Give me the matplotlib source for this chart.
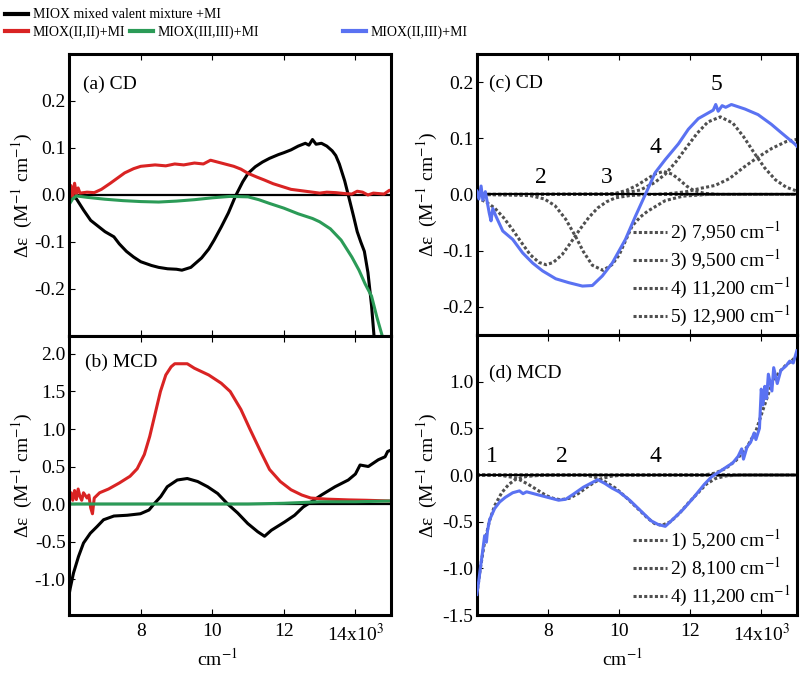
import matplotlib.pyplot as plt
from matplotlib.transforms import ScaledTranslation

plt.rcParams['font.family'] = ['Liberation Serif', 'DejaVu Serif']
plt.rcParams['mathtext.fontset'] = 'stix'
plt.rcParams['font.size'] = 14
plt.rcParams['axes.unicode_minus'] = False

# ---------- data (x in 10^3 cm^-1) ----------
# (a) CD
a_black_x = [6.0, 6.1, 6.2, 6.4, 6.6, 6.8, 7.0, 7.25, 7.4, 7.6,
             7.8, 8.0, 8.3, 8.5, 8.75, 9.0, 9.15, 9.4, 9.7, 9.9,
             10.05, 10.25, 10.45, 10.65, 10.85, 11.0, 11.2, 11.4, 11.6, 11.85,
             12.0, 12.2, 12.4, 12.6, 12.7, 12.8, 12.9, 13.05, 13.2, 13.35,
             13.45, 13.55, 13.7, 13.8, 13.95, 14.05, 14.15, 14.25, 14.35, 14.45,
             14.52, 14.6]
a_black_y = [-0.012, -0.004, -0.008, -0.032, -0.054, -0.066, -0.078, -0.089, -0.104, -0.12,
             -0.132, -0.142, -0.15, -0.154, -0.157, -0.158, -0.16, -0.154, -0.134, -0.115,
             -0.096, -0.068, -0.038, -0.002, 0.028, 0.046, 0.06, 0.07, 0.078, 0.086,
             0.09, 0.096, 0.104, 0.11, 0.106, 0.118, 0.108, 0.11, 0.104, 0.094,
             0.084, 0.066, 0.03, 0.0, -0.046, -0.078, -0.1, -0.12, -0.165, -0.235,
             -0.3, -0.36]
a_red_x = [6.0, 6.05, 6.1, 6.15, 6.2, 6.25, 6.3, 6.5, 6.7, 6.9,
           7.15, 7.35, 7.55, 7.8, 8.0, 8.4, 8.7, 8.95, 9.2, 9.5,
           9.75, 9.95, 10.25, 10.6, 10.8, 11.0, 11.25, 11.45, 11.7, 11.95,
           12.2, 12.5, 12.8, 13.0, 13.2, 13.45, 13.7, 13.9, 14.05, 14.2,
           14.35, 14.5, 14.65, 14.8, 14.95, 15.0]
a_red_y = [0.01, 0.02, -0.005, 0.025, 0.002, 0.015, 0.004, 0.006, 0.005, 0.012,
           0.025, 0.036, 0.047, 0.056, 0.061, 0.064, 0.062, 0.066, 0.064, 0.068,
           0.066, 0.074, 0.068, 0.061, 0.055, 0.046, 0.038, 0.032, 0.024, 0.018,
           0.012, 0.009, 0.006, 0.004, 0.006, 0.005, 0.003, 0.002, 0.008, 0.006,
           0.0, 0.004, 0.003, 0.002, 0.01, 0.008]
a_green_x = [6.0, 6.1, 6.2, 6.5, 7.0, 7.5, 8.0, 8.5, 9.0, 9.5,
             10.0, 10.5, 11.0, 11.3, 11.6, 12.0, 12.4, 12.8, 13.0, 13.3,
             13.6, 13.9, 14.1, 14.27, 14.45, 14.6, 14.75, 14.85]
a_green_y = [-0.02, -0.008, -0.002, -0.005, -0.009, -0.012, -0.014, -0.015, -0.013, -0.01,
             -0.006, -0.003, -0.004, -0.01, -0.018, -0.028, -0.04, -0.05, -0.057, -0.072,
             -0.096, -0.132, -0.16, -0.189, -0.215, -0.26, -0.30, -0.34]

# (b) MCD
b_red_x = [6.0, 6.05, 6.1, 6.15, 6.2, 6.25, 6.3, 6.35, 6.4, 6.5,
           6.55, 6.6, 6.65, 6.7, 6.85, 7.1, 7.4, 7.7, 7.9, 8.1,
           8.25, 8.4, 8.55, 8.7, 8.85, 8.95, 9.3, 9.5, 9.9, 10.25,
           10.5, 10.8, 11.05, 11.35, 11.6, 11.9, 12.2, 12.5, 12.75, 13.2,
           13.8, 14.3, 15.0]
b_red_y = [0.08, 0.15, 0.05, 0.18, 0.06, 0.2, 0.1, 0.05, 0.15, 0.08,
           0.12, -0.05, -0.13, 0.08, 0.15, 0.2, 0.28, 0.37, 0.47, 0.66,
           0.9, 1.2, 1.5, 1.72, 1.83, 1.87, 1.87, 1.81, 1.72, 1.61,
           1.5, 1.26, 1.0, 0.7, 0.46, 0.3, 0.19, 0.12, 0.08, 0.065,
           0.055, 0.05, 0.04]
b_black_x = [6.0, 6.03, 6.12, 6.26, 6.4, 6.59, 6.78, 6.96, 7.25, 7.62,
             7.99, 8.23, 8.37, 8.56, 8.74, 9.02, 9.3, 9.59, 9.87, 10.15,
             10.43, 10.71, 10.99, 11.27, 11.46, 11.65, 12.02, 12.3, 12.54, 12.77,
             13.05, 13.43, 13.8, 14.0, 14.13, 14.36, 14.64, 14.83, 14.9, 15.0]
b_black_y = [-1.2, -1.12, -0.92, -0.7, -0.52, -0.39, -0.3, -0.21, -0.16, -0.15,
             -0.13, -0.08, 0.0, 0.1, 0.23, 0.32, 0.34, 0.3, 0.23, 0.14,
             0.0, -0.12, -0.26, -0.37, -0.43, -0.35, -0.24, -0.15, -0.04, 0.03,
             0.12, 0.23, 0.32, 0.4, 0.52, 0.5, 0.59, 0.63, 0.7, 0.72]
b_green_x = [6.0, 7.0, 8.0, 9.0, 10.0, 11.0, 12.0, 12.5, 13.0, 14.0, 15.0]
b_green_y = [0.0, 0.0, 0.0, 0.0, 0.0, 0.0, 0.01, 0.02, 0.03, 0.03, 0.04]

# (c) CD of MIOX(II,III)+MI with Gaussian components
c_blue_x = [6.0, 6.06, 6.12, 6.17, 6.24, 6.35, 6.4, 6.45, 6.54, 6.73,
            7.01, 7.29, 7.57, 7.85, 8.22, 8.59, 8.97, 9.25, 9.53, 9.81,
            10.18, 10.46, 10.74, 11.02, 11.3, 11.67, 11.95, 12.23, 12.51, 12.65,
            12.72, 12.79, 12.9, 13.0, 13.16, 13.54, 13.91, 14.28, 14.56, 14.94,
            15.0]
c_blue_y = [0.006, -0.008, 0.015, -0.01, 0.005, -0.033, -0.047, -0.025, -0.039, -0.065,
            -0.08, -0.104, -0.122, -0.136, -0.15, -0.157, -0.163, -0.162, -0.145, -0.122,
            -0.08, -0.039, 0.0, 0.039, 0.062, 0.09, 0.116, 0.135, 0.145, 0.15,
            0.16, 0.148, 0.158, 0.155, 0.16, 0.152, 0.142, 0.125, 0.11, 0.09,
            0.086]
c2_x = [6.0, 6.25, 6.5, 6.75, 7.0, 7.25, 7.5, 7.75, 7.95, 8.15,
        8.4, 8.65, 8.9, 9.15, 9.4, 9.65, 9.9, 10.3, 10.8, 15.0]
c2_y = [-0.006, -0.013, -0.024, -0.041, -0.062, -0.085, -0.107, -0.121, -0.125, -0.121,
        -0.107, -0.085, -0.062, -0.041, -0.024, -0.013, -0.006, -0.002, 0.0, 0.0]
c3_x = [6.0, 7.5, 7.9, 8.2, 8.5, 8.78, 9.0, 9.25, 9.55, 9.8,
        10.0, 10.2, 10.37, 10.6, 10.8, 11.3, 11.8, 12.5, 15.0]
c3_y = [0.0, -0.002, -0.008, -0.02, -0.044, -0.075, -0.102, -0.126, -0.135, -0.125,
        -0.108, -0.08, -0.056, -0.04, -0.03, -0.011, -0.003, 0.0, 0.0]
c4_x = [6.0, 9.6, 9.9, 10.2, 10.5, 10.75, 11.0, 11.25, 11.5, 11.7,
        11.9, 12.1, 12.4, 12.8, 15.0]
c4_y = [0.0, 0.0, 0.002, 0.007, 0.016, 0.026, 0.036, 0.041, 0.036, 0.026,
        0.015, 0.007, 0.002, 0.0, 0.0]
c5_x = [6.0, 9.8, 10.2, 10.6, 11.0, 11.3, 11.6, 11.9, 12.2, 12.5,
        12.85, 13.2, 13.5, 13.8, 14.1, 14.4, 14.7, 15.0]
c5_y = [0.0, 0.001, 0.003, 0.008, 0.021, 0.036, 0.058, 0.084, 0.109, 0.129,
        0.138, 0.127, 0.103, 0.074, 0.047, 0.026, 0.013, 0.006]
c6_x = [6.0, 11.0, 11.5, 11.9, 12.3, 12.7, 13.1, 13.5, 13.9, 14.3, 14.7, 15.0]
c6_y = [0.0, 0.0, 0.002, 0.005, 0.011, 0.016, 0.028, 0.048, 0.066, 0.082, 0.094, 0.098]
c_labels = ['2) 7,950 cm$^{-1}$', '3) 9,500 cm$^{-1}$',
            '4) 11,200 cm$^{-1}$', '5) 12,900 cm$^{-1}$']

# (d) MCD of MIOX(II,III)+MI with Gaussian components
d_blue_x = [6.0, 6.05, 6.1, 6.17, 6.22, 6.27, 6.3, 6.36, 6.5, 6.64,
            6.8, 7.01, 7.2, 7.3, 7.4, 7.6, 7.8, 8.0, 8.3, 8.5,
            8.7, 9.0, 9.2, 9.4, 9.6, 9.8, 10.0, 10.3, 10.6, 10.9,
            11.1, 11.3, 11.5, 11.8, 12.1, 12.4, 12.6, 12.8, 13.0, 13.2,
            13.35, 13.45, 13.5, 13.6, 13.7, 13.8, 13.85, 13.95, 14.0, 14.05,
            14.1, 14.15, 14.2, 14.3, 14.35, 14.45, 14.55, 14.7, 14.8, 14.9,
            15.0]
d_blue_y = [-1.28, -1.15, -1.0, -0.8, -0.65, -0.72, -0.6, -0.48, -0.36, -0.29,
            -0.24, -0.19, -0.17, -0.2, -0.18, -0.2, -0.22, -0.24, -0.27, -0.26,
            -0.21, -0.13, -0.09, -0.05, -0.09, -0.14, -0.18, -0.27, -0.38, -0.49,
            -0.53, -0.55, -0.48, -0.37, -0.24, -0.1, -0.02, 0.03, 0.08, 0.13,
            0.2, 0.28, 0.17, 0.3, 0.35, 0.45, 0.38, 0.5, 0.92, 0.75,
            0.95, 0.82, 1.08, 0.9, 1.15, 0.98, 1.12, 1.17, 1.22, 1.2,
            1.33]
d1_x = [6.0, 6.1, 6.2, 6.35, 6.5, 6.7, 6.9, 7.1, 7.4, 7.8, 8.2, 15.0]
d1_y = [-1.28, -1.0, -0.76, -0.5, -0.33, -0.19, -0.1, -0.045, -0.015, -0.003, 0.0, 0.0]
d2_x = [6.0, 6.7, 7.0, 7.2, 7.45, 7.7, 7.95, 8.15, 8.35, 8.6,
        8.85, 9.1, 9.3, 9.5, 9.75, 10.1, 15.0]
d2_y = [0.0, -0.005, -0.025, -0.05, -0.1, -0.16, -0.22, -0.25, -0.265, -0.25,
        -0.2, -0.13, -0.08, -0.04, -0.015, 0.0, 0.0]
d4_x = [6.0, 9.0, 9.3, 9.6, 9.9, 10.2, 10.5, 10.8, 11.0, 11.2,
        11.45, 11.7, 11.95, 12.2, 12.45, 12.7, 13.0, 13.4, 15.0]
d4_y = [0.0, 0.0, -0.02, -0.07, -0.14, -0.24, -0.35, -0.46, -0.52, -0.54,
        -0.5, -0.41, -0.3, -0.2, -0.1, -0.04, -0.01, 0.0, 0.0]
d5_x = [6.0, 12.4, 12.7, 13.0, 13.3, 13.6, 13.85, 14.05, 14.3, 14.5, 14.7, 14.85, 15.0]
d5_y = [0.0, 0.0, 0.02, 0.07, 0.16, 0.3, 0.47, 0.7, 0.98, 1.1, 1.18, 1.22, 1.28]
d_labels = ['1) 5,200 cm$^{-1}$', '2) 8,100 cm$^{-1}$', '4) 11,200 cm$^{-1}$']

x_ticks = [8, 10, 12, 14]
x_ticklabels = ['8', '10', '12', '14x10$^3$']

BLACK = 'black'
RED = '#d92323'
GREEN = '#2b9b57'
BLUE = '#5a72f2'
FIT = '#4f4f4f'
LW = 2.2
DOT = (0, (1, 0.75))

fig = plt.figure(figsize=(8, 6.74), dpi=100)
ax_a = fig.add_axes([0.0865, 0.5015, 0.4025, 0.4184])
ax_b = fig.add_axes([0.0865, 0.0875, 0.4025, 0.414])
ax_c = fig.add_axes([0.596, 0.503, 0.4, 0.417])
ax_d = fig.add_axes([0.596, 0.0875, 0.4, 0.4155])


def style(ax, ylim, yticks, ylab_x, bottom):
    ax.set_xlim(6, 15)
    ax.set_ylim(*ylim)
    ax.set_yticks(yticks)
    ax.set_yticklabels([f'{v:.1f}' for v in yticks])
    ax.set_xticks(x_ticks)
    if bottom:
        ax.set_xticklabels(x_ticklabels)
        ax.set_xlabel('cm$^{-1}$')
        ax.xaxis.set_label_coords(0.46, -0.118)
        # the 14x10^3 label sits a little lower in the original
        lbl = ax.get_xticklabels()[-1]
        lbl.set_transform(lbl.get_transform() +
                          ScaledTranslation(0, -4 / 72, fig.dpi_scale_trans))
    else:
        ax.set_xticklabels([])
    for s in ax.spines.values():
        s.set_linewidth(2.2)
    ax.tick_params(direction='in', length=4, width=0.8, top=True, labelsize=14)
    ax.tick_params(axis='x', pad=6)
    ax.tick_params(axis='y', pad=2.5)
    ax.axhline(0, color='black', lw=1.6, zorder=1.5)
    ax.set_ylabel(r'Δε  (M$^{-1}$ cm$^{-1}$)', fontsize=14)
    ax.yaxis.set_label_coords(ylab_x, 0.5)


# (a)
l_black, = ax_a.plot(a_black_x, a_black_y, color=BLACK, lw=LW)
l_red, = ax_a.plot(a_red_x, a_red_y, color=RED, lw=LW)
l_green, = ax_a.plot(a_green_x, a_green_y, color=GREEN, lw=LW)
style(ax_a, (-0.3, 0.3), [-0.2, -0.1, 0.0, 0.1, 0.2], -0.105, False)
ax_a.text(0.044, 0.894, '(a) CD', transform=ax_a.transAxes, va='center', fontsize=14)

# (b)
ax_b.plot(b_black_x, b_black_y, color=BLACK, lw=LW)
ax_b.plot(b_red_x, b_red_y, color=RED, lw=LW)
ax_b.plot(b_green_x, b_green_y, color=GREEN, lw=LW)
style(ax_b, (-1.48, 2.24), [-1.0, -0.5, 0.0, 0.5, 1.0, 1.5, 2.0], -0.105, True)
ax_b.text(0.05, 0.907, '(b) MCD', transform=ax_b.transAxes, va='center', fontsize=14)

# (c)
l_blue, = ax_c.plot(c_blue_x, c_blue_y, color=BLUE, lw=LW, zorder=3)
c_lines = []
for xs, ys in [(c2_x, c2_y), (c3_x, c3_y), (c4_x, c4_y), (c5_x, c5_y)]:
    ln, = ax_c.plot(xs, ys, color=FIT, lw=2.2, ls=DOT, zorder=1)
    c_lines.append(ln)
ax_c.plot(c6_x, c6_y, color=FIT, lw=2.2, ls=DOT, zorder=1)
style(ax_c, (-0.25, 0.25), [-0.2, -0.1, 0.0, 0.1, 0.2], -0.115, False)
ax_c.text(0.0375, 0.897, '(c) CD', transform=ax_c.transAxes, va='center', fontsize=14)
for lab, xx, yy in [('2', 7.81, 0.03), ('3', 9.66, 0.03), ('4', 11.03, 0.084), ('5', 12.74, 0.196)]:
    ax_c.text(xx, yy, lab, ha='center', va='center', fontsize=17)
ax_c.legend(c_lines, c_labels, loc='lower right', frameon=False, fontsize=14,
            handlelength=1.75, handletextpad=0.2, labelspacing=0.15,
            borderaxespad=0.0, borderpad=0.3)

# (d)
ax_d.plot(d_blue_x, d_blue_y, color=BLUE, lw=LW, zorder=3)
d_lines = []
for xs, ys in [(d1_x, d1_y), (d2_x, d2_y), (d4_x, d4_y)]:
    ln, = ax_d.plot(xs, ys, color=FIT, lw=2.2, ls=DOT, zorder=1)
    d_lines.append(ln)
ax_d.plot(d5_x, d5_y, color=FIT, lw=2.2, ls=DOT, zorder=1)
style(ax_d, (-1.5, 1.5), [-1.5, -1.0, -0.5, 0.0, 0.5, 1.0], -0.115, True)
ax_d.xaxis.set_label_coords(0.456, -0.118)
ax_d.text(0.0375, 0.864, '(d) MCD', transform=ax_d.transAxes, va='center', fontsize=14)
for lab, xx, yy in [('1', 6.42, 0.2), ('2', 8.38, 0.2), ('4', 11.03, 0.2)]:
    ax_d.text(xx, yy, lab, ha='center', va='center', fontsize=17)
ax_d.legend(d_lines, d_labels, loc='lower right', frameon=False, fontsize=14,
            handlelength=1.75, handletextpad=0.2, labelspacing=0.15,
            borderaxespad=0.0, borderpad=0.3)

# top legend
top_entries = [
    (l_black, 'MIOX mixed valent mixture +MI', 5, 15),
    (l_red, 'MIOX(II,II)+MI', 5, 32),
    (l_green, 'MIOX(III,III)+MI', 130, 32),
    (l_blue, 'MIOX(II,III)+MI', 343, 32),
]
for h, lab, px, py in top_entries:
    leg = fig.legend([h], [lab], loc='center left', bbox_to_anchor=(px / 800, 1 - py / 674),
                     frameon=False, fontsize=10, handlelength=1.65, handletextpad=0.36,
                     borderpad=0, borderaxespad=0)
    leg.get_lines()[0].set_linewidth(3)

fig.savefig('out.png', dpi=100)
